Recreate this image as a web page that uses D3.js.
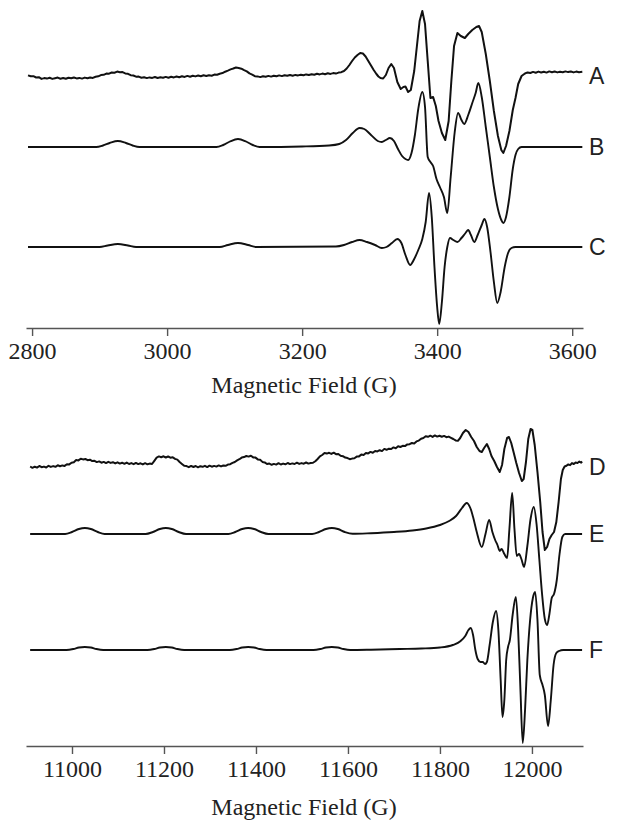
<!DOCTYPE html>
<html>
<head>
<meta charset="utf-8">
<script src="https://cdn.jsdelivr.net/npm/d3@7"></script>
<style>
  body { margin: 0; background: #fff; }
  svg { display: block; }
</style>
</head>
<body>
<svg id="svg" width="618" height="829"></svg>
<script>
// X-band spectra (top panel), field in G, intensity in arbitrary units
var xbandTicks = [2800, 3000, 3200, 3400, 3600];
var traceA = [
  [2794,0.6],[2798,-0.3],[2802,-0.2],[2806,-1.5],[2810,-1.2],[2814,-2.9],[2818,-2.1],[2822,-2.6],
  [2826,-1.8],[2830,-2.9],[2834,-2.2],[2838,-1.6],[2842,-2.7],[2846,-2],[2850,-2.8],[2854,-1.7],
  [2858,-2.3],[2862,-1.5],[2866,-2.4],[2870,-1.9],[2874,-2.6],[2878,-1.6],[2882,-2.3],[2886,-1.5],
  [2890,-1.9],[2894,-0.8],[2898,-0.3],[2902,0.9],[2906,1.2],[2910,2.4],[2914,2.3],[2918,3.5],
  [2922,3.3],[2926,4.4],[2930,3.8],[2934,3.9],[2938,2.6],[2942,2.2],[2946,0.8],[2950,0.5],
  [2954,-0.7],[2958,-0.6],[2962,-1.7],[2966,-1.2],[2970,-2.1],[2974,-1.4],[2978,-1.9],[2982,-1],
  [2986,-2],[2990,-1.3],[2994,-1.8],[2998,-0.9],[3002,-1.7],[3006,-0.8],[3010,-1.4],[3014,-0.5],
  [3018,-1.3],[3022,-0.3],[3026,-0.9],[3030,0.1],[3034,-0.7],[3038,0.3],[3042,-0.4],[3046,0.5],
  [3050,-0.2],[3054,0.7],[3058,0],[3062,0.8],[3066,0.3],[3070,1.4],[3074,1.2],[3078,2.3],
  [3082,2.9],[3086,4.3],[3090,5.4],[3094,6.6],[3098,7.5],[3102,8.5],[3106,8],[3110,7.3],
  [3114,5.8],[3118,4.6],[3122,2.6],[3126,1.4],[3130,-0.2],[3134,-0.4],[3138,-1.1],[3142,-0.2],
  [3146,-0.8],[3150,0.1],[3154,-0.6],[3158,0.3],[3162,-0.3],[3166,0.6],[3170,-0.1],[3174,0.8],
  [3178,0.2],[3182,1],[3186,0.3],[3190,1.1],[3194,0.6],[3198,1.3],[3202,0.7],[3206,1.6],
  [3210,1],[3214,1.8],[3218,1.2],[3222,2.2],[3226,1.6],[3230,2.4],[3234,1.8],[3238,2.7],
  [3242,2.1],[3246,2.9],[3250,2.4],[3254,3.4],[3258,3.8],[3262,5],[3266,7.5],[3270,11],
  [3274,15],[3278,18.5],[3282,21],[3286,23],[3290,22.5],[3294,19.5],[3298,15],[3302,10.5],
  [3306,6],[3310,2],[3313,-0.5],[3316,-2],[3320,-2.5],[3324,1],[3328,8],[3332,12],[3336,8],
  [3341,-6],[3346,-13],[3350,-11],[3353,-10.5],[3357,-16],[3361,-14],[3366,5],[3370,30],
  [3374,55],[3378,65],[3382,52],[3386,15],[3390,-22],[3394,-21],[3398,-30],[3402,-45],
  [3407,-57],[3412,-64],[3417,-45],[3421,-5],[3425,30],[3430,43],[3435,40],[3441,38],[3446,42],
  [3452,46],[3458,49],[3462,50],[3466,44],[3472,22],[3478,-5],[3484,-35],[3490,-60],[3495,-74],
  [3498,-77],[3502,-70],[3507,-55],[3512,-34],[3516,-22],[3520,-8],[3525,0],[3530,2.5],
  [3534,3.6],[3538,3],[3542,4.1],[3546,3.3],[3550,4.4],[3554,3.5],[3558,4.2],[3562,3.4],
  [3566,4.6],[3570,3.8],[3574,4.5],[3578,3.6],[3582,4.3],[3586,3.7],[3590,4.6],[3594,3.9],
  [3598,4.5],[3602,3.6],[3606,4.4],[3610,3.8],[3615,4.3]
];
var traceB = [
  [2794,0],[2895,0],[2905,1.5],[2915,4],[2927,6],[2939,4],[2949,1.5],[2959,0],[3073,0],
  [3083,2],[3093,5.5],[3105,8],[3117,5.5],[3127,2],[3137,0],[3200,0.5],[3240,1.5],[3255,3],
  [3265,7],[3275,14],[3285,19],[3292,18],[3302,12],[3312,6],[3318,5],[3324,7],[3330,9],
  [3336,6],[3342,-2],[3348,-9],[3353,-12],[3357,-13],[3362,-6],[3367,12],[3372,38],[3378,55],
  [3382,40],[3386,-10],[3390,-15],[3394,-19],[3399,-32],[3404,-40],[3410,-50],[3415,-66],
  [3420,-30],[3426,15],[3431,34],[3436,27],[3440,23],[3446,32],[3452,44],[3457,54],[3461,64],
  [3466,50],[3472,20],[3478,-10],[3484,-40],[3490,-62],[3495,-73],[3498,-76],[3502,-70],
  [3507,-50],[3512,-22],[3516,-8],[3520,-2],[3525,0],[3615,0]
];
var traceC = [
  [2794,0],[2900,0],[2912,1.5],[2927,3],[2942,1.5],[2954,0],[3078,0],[3090,2],[3105,4],
  [3120,2],[3132,0],[3250,0.5],[3262,2],[3274,5],[3285,7],[3296,5],[3308,2],[3318,-1],
  [3325,0],[3333,4],[3341,8],[3347,4],[3353,-8],[3360,-18],[3366,-12],[3372,-3],[3378,8],
  [3383,25],[3388,54],[3392,30],[3396,-20],[3400,-60],[3403,-77],[3407,-55],[3411,-20],
  [3415,0],[3419,9],[3424,7],[3430,5],[3436,9],[3442,14],[3446,17],[3450,12],[3455,5],
  [3460,12],[3466,22],[3470,28],[3474,20],[3479,-5],[3484,-35],[3489,-56],[3494,-45],
  [3500,-20],[3505,-6],[3510,-1],[3516,0],[3615,0]
];

// Q-band spectra (bottom panel)
var qbandTicks = [11000, 11200, 11400, 11600, 11800, 12000];
var traceD = [
  [10909,0.5],[10914,-0.8],[10919,0.3],[10924,-0.6],[10929,1],[10934,-0.2],[10939,0.4],[10944,-0.5],
  [10949,1.2],[10954,0.1],[10959,0.9],[10964,0.2],[10969,1.7],[10974,0.8],[10979,1.6],[10984,1.1],
  [10989,2.8],[10994,2.6],[10999,4.3],[11004,4.8],[11009,6.9],[11014,6.6],[11019,8.3],[11024,7.6],
  [11029,8],[11034,6.8],[11039,7.3],[11044,5.9],[11049,6.2],[11054,4.9],[11059,5.6],[11064,4.3],
  [11069,5.1],[11074,3.9],[11079,5.2],[11084,4.1],[11089,4.8],[11094,3.6],[11099,4.7],[11104,3.4],
  [11109,4.3],[11114,3.2],[11119,4.4],[11124,3],[11129,3.9],[11134,2.8],[11139,4.1],[11144,2.9],
  [11149,3.7],[11154,2.6],[11159,3.8],[11164,2.7],[11169,3.4],[11174,3],[11179,6.2],[11184,9.4],
  [11189,10.6],[11194,9.8],[11199,10.7],[11204,9.5],[11209,10.5],[11214,9.3],[11219,9.8],[11224,8.1],
  [11229,7.4],[11234,5],[11239,3.1],[11244,1.2],[11249,0.9],[11254,-0.2],[11259,1.1],[11264,0],
  [11269,1],[11274,-0.3],[11279,0.8],[11284,0.2],[11289,1.2],[11294,-0.1],[11299,1.3],[11304,0.3],
  [11309,1.1],[11314,0.4],[11319,1.6],[11324,0.6],[11329,1.5],[11334,1.2],[11339,2.4],[11344,2.8],
  [11349,4.1],[11354,5],[11359,6.6],[11364,7.8],[11369,9.4],[11374,9.9],[11379,11],[11384,10.4],
  [11389,11.3],[11394,9.6],[11399,9.4],[11404,7.6],[11409,7.3],[11414,5.1],[11419,4.6],[11424,3],
  [11429,3.5],[11434,2.2],[11439,3.1],[11444,2.4],[11449,3.8],[11454,2.5],[11459,3.4],[11464,2.7],
  [11469,4],[11474,2.9],[11479,3.6],[11484,3],[11489,4.3],[11494,3.1],[11499,3.9],[11504,3.3],
  [11509,4.5],[11514,3.4],[11519,4],[11524,4.2],[11529,5.8],[11534,8],[11539,10.6],[11544,12],
  [11549,13.9],[11554,13.4],[11559,14.2],[11564,13.1],[11569,14.3],[11574,12.8],[11579,13],[11584,11.2],
  [11589,10.8],[11594,9.4],[11599,8.9],[11604,7.8],[11609,8.4],[11614,8.8],[11619,10.4],[11624,10.6],
  [11629,12.4],[11634,12.1],[11639,14],[11644,13.6],[11649,15.1],[11654,14.2],[11659,16],[11664,15.6],
  [11669,16.8],[11674,15.9],[11679,18.1],[11684,17.2],[11689,18.3],[11694,18],[11699,19.6],[11704,18.8],
  [11709,20.7],[11714,20],[11719,21.2],[11724,20.9],[11729,22.6],[11734,22.8],[11739,24],[11744,23.6],
  [11749,25.6],[11754,26.4],[11759,28.3],[11764,29],[11769,30.8],[11774,30.2],[11779,31.3],[11784,30.1],
  [11789,31.6],[11794,30.4],[11799,31.2],[11804,30.3],[11809,31.1],[11814,29.8],[11819,30.4],[11824,29.2],
  [11829,28],[11834,26.6],[11839,26.2],[11844,29],[11850,34],[11856,37],[11862,35],[11868,30],
  [11874,26],[11880,20],[11886,16],[11891,15],[11896,19],[11902,23],[11907,18],[11912,11],
  [11918,6],[11924,0],[11930,-5],[11935,2],[11940,18],[11946,29],[11950,30],[11955,24],
  [11960,15],[11966,4],[11972,-6],[11978,-14],[11982,-12],[11987,5],[11992,28],[11997,38],
  [12001,37],[12006,22],[12012,-5],[12018,-35],[12023,-65],[12028,-83],[12033,-80],[12038,-72],
  [12043,-68],[12048,-65],[12053,-55],[12058,-35],[12063,-12],[12067,-3],[12071,0.5],[12075,1.2],
  [12079,2.6],[12083,1.8],[12087,3.9],[12091,3],[12095,4.6],[12099,3.9],[12103,5.4],[12107,4.4],
  [12109,5.5]
];
var traceE = [
  [10909,0],[10985,0],[11000,2],[11015,5],[11028,6],[11041,5],[11056,2],[11071,0],[11160,0],
  [11176,2],[11191,5],[11204,6],[11217,5],[11232,2],[11248,0],[11340,0],[11355,2],[11370,5],
  [11383,6],[11396,5],[11411,2],[11427,0],[11522,0],[11537,2],[11552,5],[11565,6],[11578,5],
  [11593,2],[11610,0.2],[11650,0.8],[11700,2],[11740,3.5],[11770,5.5],[11800,9],[11820,13],
  [11835,18],[11848,26],[11858,31],[11866,26],[11872,17],[11880,2],[11891,-13],[11899,0],
  [11907,14],[11914,2],[11920,-6],[11925,-11],[11930,-17],[11934,-15],[11940,-20],[11946,-24],
  [11951,5],[11957,41],[11962,5],[11967,-22],[11972,-20],[11977,-25],[11983,-33],[11990,-12],
  [11997,15],[12004,27],[12010,10],[12016,-25],[12022,-60],[12028,-85],[12033,-91],[12038,-80],
  [12043,-64],[12048,-60],[12054,-46],[12060,-20],[12066,-3],[12072,0],[12109,0]
];
var traceF = [
  [10909,0],[10988,0],[11003,1],[11015,2.5],[11028,3],[11041,2.5],[11053,1],[11068,0],
  [11164,0],[11179,1],[11191,2.5],[11204,3],[11217,2.5],[11229,1],[11244,0],[11343,0],
  [11358,1],[11370,2.5],[11383,3],[11396,2.5],[11408,1],[11423,0],[11525,0],[11540,1],
  [11552,2.5],[11565,3],[11578,2.5],[11590,1],[11605,0],[11650,0.3],[11713,1],[11760,1.5],
  [11800,2.5],[11828,5],[11845,9],[11855,14],[11862,20],[11867,22],[11872,15],[11877,0],
  [11882,-9],[11888,-12],[11893,-12],[11898,-14],[11902,-12],[11908,5],[11915,28],[11922,39],
  [11927,20],[11932,-30],[11936,-67],[11940,-50],[11944,-10],[11948,3],[11952,10],[11958,35],
  [11965,53],[11970,20],[11975,-40],[11980,-93],[11985,-60],[11990,-10],[11996,30],[12002,52],
  [12007,58],[12012,30],[12017,-25],[12023,-35],[12028,-45],[12035,-76],[12041,-50],
  [12047,-15],[12053,-3],[12059,-1],[12068,0],[12109,0]
];

var traceNames = ["A", "B", "C", "D", "E", "F"];
var traceOffsets = [254, 183, 83, 293, 226, 110];

var serif = "'Liberation Serif', 'Times New Roman', Times, serif";
var sans = "'Liberation Sans', Arial, sans-serif";
var svg = d3.select("#svg");

function drawPanel(cfg) {
  var x = d3.scaleLinear().domain(cfg.xdom).range([26, 583]);
  var y = d3.scaleLinear().domain([0, 330]).range([cfg.bottom, cfg.bottom - 330]);
  var g = svg.append("g");

  var ax = g.append("g")
    .attr("transform", "translate(0," + cfg.axisY + ")")
    .call(d3.axisBottom(x)
      .tickValues(cfg.ticks)
      .tickSize(8)
      .tickSizeOuter(0)
      .tickPadding(6)
      .tickFormat(d3.format("d")))
    .attr("font-family", serif)
    .attr("font-size", 24);
  ax.select(".domain").attr("stroke", "#555").attr("stroke-width", 1.6);
  ax.selectAll(".tick line").attr("stroke", "#555").attr("stroke-width", 1.4);
  ax.selectAll(".tick text")
    .style("font-family", serif)
    .style("font-size", "24px")
    .attr("fill", "#222");

  g.append("text")
    .attr("x", 304)
    .attr("y", cfg.titleY)
    .attr("text-anchor", "middle")
    .style("font-family", serif)
    .style("font-size", "24px")
    .attr("fill", "#222")
    .text("Magnetic Field (G)");

  cfg.traces.forEach(function(t, i) {
    var off = cfg.offsets[i];
    var line = d3.line()
      .x(function(d) { return x(d[0]); })
      .y(function(d) { return y(d[1] + off); })
      .curve(t.noisy ? d3.curveLinear : d3.curveMonotoneX);
    g.append("path")
      .datum(t.data)
      .attr("fill", "none")
      .attr("stroke", "#111")
      .attr("stroke-width", t.noisy ? 2 : 1.9)
      .attr("stroke-linejoin", "round")
      .attr("d", line);
    g.append("text")
      .attr("x", 589)
      .attr("y", y(off))
      .attr("dy", "0.36em")
      .style("font-family", sans)
      .style("font-size", "23px")
      .attr("fill", "#222")
      .text(cfg.names[i]);
  });
}

drawPanel({
  xdom: [2791, 3616],
  bottom: 330,
  axisY: 328,
  titleY: 393,
  ticks: xbandTicks,
  traces: [{data: traceA, noisy: true}, {data: traceB}, {data: traceC}],
  offsets: traceOffsets.slice(0, 3),
  names: traceNames.slice(0, 3)
});

drawPanel({
  xdom: [10900, 12111],
  bottom: 760,
  axisY: 746,
  titleY: 815,
  ticks: qbandTicks,
  traces: [{data: traceD, noisy: true}, {data: traceE}, {data: traceF}],
  offsets: traceOffsets.slice(3),
  names: traceNames.slice(3)
});
</script>
</body>
</html>
